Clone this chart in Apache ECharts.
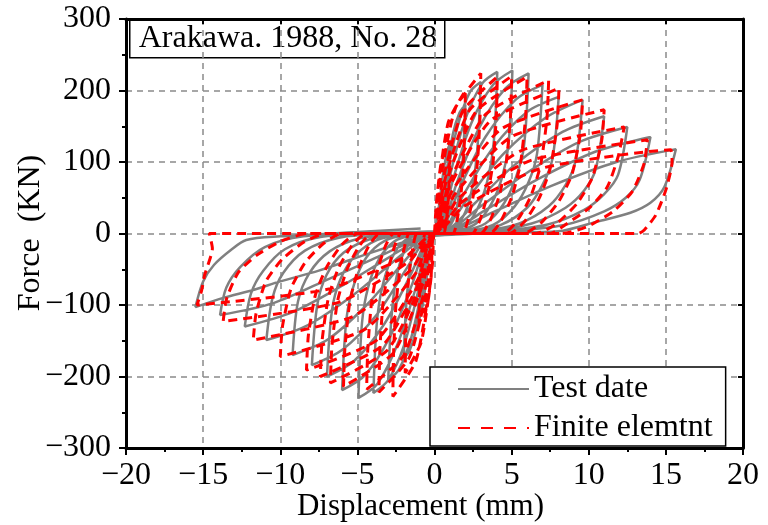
<!DOCTYPE html>
<html>
<head>
<meta charset="utf-8">
<script src="https://cdn.jsdelivr.net/npm/echarts@6/dist/echarts.min.js"></script>
<style>
  html, body { margin: 0; padding: 0; background: #fff; }
  #chart { width: 768px; height: 525px; }
</style>
</head>
<body>
<div id="chart"></div>
<script>
// Axis ranges and ticks
const xRange = [-20, 20, 5];
const yRange = [-300, 300, 100];

// Test hysteresis loops, one cycle per displacement level: [displacement mm, force kN]
const testCycles = [
  [[0,0],[0.3,40],[0.6,90],[0.85,117],[1.0,125],[0.9,80],[0.7,30],[0.45,8],[0.1,0],[-0.2,-10],[-0.5,-60],[-0.8,-105],[-1.0,-120],[-0.9,-75],[-0.7,-28],[-0.4,-6],[0,2]],
  [[0.3,8],[0.7,75],[1.2,140],[1.6,168],[2.0,180],[1.85,110],[1.6,55],[1.2,18],[0.6,3],[0,-2],[-0.3,-10],[-0.7,-70],[-1.2,-135],[-1.6,-163],[-2.0,-175],[-1.85,-105],[-1.6,-50],[-1.2,-15],[-0.6,-2],[0,3]],
  [[0.3,8],[0.8,80],[1.5,150],[2.3,198],[3.0,212],[2.8,125],[2.5,70],[2.0,30],[1.3,8],[0.5,0],[0,-3],[-0.3,-10],[-0.8,-75],[-1.5,-145],[-2.3,-190],[-3.0,-205],[-2.8,-120],[-2.5,-65],[-2.0,-27],[-1.3,-7],[-0.5,0],[0,3]],
  [[0.4,6],[1.0,80],[2.0,160],[3.1,210],[4.07,226],[3.85,130],[3.5,80],[2.9,40],[2.1,13],[1.0,2],[0,-3],[-0.4,-8],[-1.0,-75],[-2.0,-158],[-3.0,-205],[-3.96,-223],[-3.75,-128],[-3.4,-76],[-2.8,-36],[-2.0,-11],[-1.0,-1],[0,3]],
  [[0.4,6],[1.2,75],[2.4,155],[3.8,208],[5.05,228],[4.8,125],[4.4,80],[3.7,42],[2.7,14],[1.3,2],[0,-3],[-0.4,-8],[-1.2,-75],[-2.4,-155],[-3.7,-210],[-4.93,-230],[-4.7,-125],[-4.3,-75],[-3.6,-36],[-2.6,-11],[-1.3,-1],[0,3]],
  [[0.5,5],[1.4,68],[2.9,148],[4.6,203],[6.1,224],[5.8,122],[5.3,80],[4.5,42],[3.3,14],[1.6,2],[0,-3],[-0.5,-8],[-1.4,-68],[-2.9,-145],[-4.5,-198],[-5.99,-219],[-5.7,-118],[-5.2,-70],[-4.4,-33],[-3.2,-10],[-1.6,-1],[0,3]],
  [[0.5,5],[1.6,62],[3.3,135],[5.3,188],[7.0,208],[6.65,112],[6.1,72],[5.2,38],[3.8,12],[1.9,2],[0,-3],[-0.5,-8],[-1.6,-60],[-3.3,-128],[-5.2,-178],[-6.97,-200],[-6.65,-108],[-6.1,-64],[-5.1,-30],[-3.7,-9],[-1.9,-1],[0,3]],
  [[0.6,5],[1.9,55],[3.8,120],[6.0,170],[8.05,191],[7.65,105],[7.0,68],[6.0,36],[4.3,12],[2.2,2],[0,-3],[-0.6,-8],[-1.9,-52],[-3.8,-115],[-6.0,-163],[-7.95,-184],[-7.6,-100],[-7.0,-58],[-5.9,-27],[-4.2,-8],[-2.2,-1],[0,3]],
  [[0.6,5],[2.2,50],[4.5,112],[7.2,162],[9.6,187],[9.15,102],[8.5,68],[7.4,38],[5.5,14],[2.8,2],[0,-3],[-0.6,-7],[-2.2,-45],[-4.4,-100],[-6.9,-148],[-9.2,-170],[-8.85,-95],[-8.1,-55],[-6.8,-25],[-4.9,-7],[-2.5,-1],[0,3]],
  [[0.7,4],[2.6,42],[5.2,96],[8.3,142],[11.0,164],[10.45,90],[9.7,60],[8.5,36],[6.3,14],[3.2,2],[0,-3],[-0.7,-6],[-2.6,-38],[-5.2,-85],[-8.2,-128],[-10.9,-149],[-10.5,-90],[-9.8,-55],[-8.4,-24],[-6.2,-6],[-3.2,0],[0,3]],
  [[0.8,4],[3.0,38],[6.0,85],[9.4,128],[12.5,149],[11.9,82],[11.0,55],[9.7,33],[7.4,13],[3.7,2],[0,-3],[-0.8,-6],[-3.0,-34],[-5.9,-72],[-9.2,-110],[-12.3,-130],[-11.9,-84],[-11.1,-52],[-9.7,-22],[-7.4,-5],[-3.7,0],[0,3]],
  [[0.9,4],[3.4,34],[6.7,76],[10.5,115],[14.0,135],[13.3,75],[12.4,50],[11.0,31],[8.4,12],[4.2,2],[0,-3],[-0.9,-6],[-3.4,-30],[-6.8,-63],[-10.4,-97],[-13.9,-114],[-13.5,-76],[-12.6,-47],[-11.0,-19],[-8.5,-4],[-4.3,0],[0,3]],
  [[1.0,4],[3.8,30],[7.5,66],[11.8,100],[15.65,118],[14.9,65],[14.0,43],[12.7,29],[10.6,17],[8.0,3],[4.0,1],[0,-3],[-1.0,-6],[-4.0,-26],[-7.5,-52],[-10.0,-67],[-11.75,-79],[-13.7,-90],[-15.5,-103],[-15.0,-67],[-14.3,-44],[-13.2,-23],[-12.2,-9],[-10.0,-4],[-5.0,2],[-0.9,7]]
];

// Finite element loops: [displacement mm, force kN]
const feCycles = [
  [[0,0],[0.12,42],[0.45,101],[1.0,130],[0.98,100],[0.93,58],[0.84,31],[0.72,10],[0.6,0],[0,0],[-0.12,-40],[-0.45,-98],[-1.0,-125],[-0.98,-94],[-0.93,-56],[-0.84,-30],[-0.72,-10],[-0.6,0],[0,0]],
  [[0.24,64],[0.9,156],[2.0,200],[1.97,150],[1.86,90],[1.68,48],[1.44,16],[1.2,0],[0,0],[-0.23,-62],[-0.86,-152],[-1.9,-195],[-1.87,-146],[-1.77,-88],[-1.6,-47],[-1.37,-16],[-1.14,0],[0,0]],
  [[0.36,72],[1.35,175],[3.0,224],[2.96,168],[2.79,101],[2.52,54],[2.16,18],[1.8,0],[0,0],[-0.32,-73],[-1.2,-178],[-2.7,-228],[-2.66,-171],[-2.51,-103],[-2.27,-55],[-1.94,-18],[-1.62,0],[0,0]],
  [[0.49,70],[1.83,171],[4.07,219],[4.01,164],[3.79,99],[3.42,53],[2.93,18],[2.44,0],[0,0],[-0.43,-71],[-1.62,-173],[-3.6,-222],[-3.55,-167],[-3.35,-100],[-3.02,-53],[-2.59,-18],[-2.16,0],[0,0]],
  [[0.6,70],[2.25,172],[5.0,220],[4.93,165],[4.65,99],[4.2,53],[3.6,18],[3.0,0],[0,0],[-0.53,-70],[-1.98,-170],[-4.4,-218],[-4.33,-164],[-4.09,-98],[-3.7,-52],[-3.17,-17],[-2.64,0],[0,0]],
  [[0.72,70],[2.7,171],[6.0,219],[5.91,164],[5.58,99],[5.04,53],[4.32,18],[3.6,0],[0,0],[-0.71,-68],[-2.66,-167],[-5.9,-214],[-5.81,-161],[-5.49,-96],[-4.96,-51],[-4.25,-17],[-3.54,0],[0,0]],
  [[0.89,68],[3.33,167],[7.4,214],[7.29,161],[6.88,96],[6.22,51],[5.33,17],[4.44,0],[0,0],[-0.81,-67],[-3.04,-163],[-6.75,-209],[-6.65,-157],[-6.28,-94],[-5.67,-50],[-4.86,-17],[-4.05,0],[0,0]],
  [[0.97,65],[3.63,158],[8.07,203],[7.95,152],[7.5,91],[6.78,49],[5.81,16],[4.84,0],[0,0],[-0.89,-64],[-3.33,-156],[-7.4,-200],[-7.29,-150],[-6.88,-90],[-6.22,-48],[-5.33,-16],[-4.44,0],[0,0]],
  [[1.15,60],[4.32,146],[9.6,187],[9.46,140],[8.93,84],[8.06,45],[6.91,15],[5.76,0],[0,0],[-1.0,-61],[-3.74,-149],[-8.3,-191],[-8.18,-143],[-7.72,-86],[-6.97,-46],[-5.98,-15],[-4.98,0],[0,0]],
  [[1.32,55],[4.95,135],[11.0,173],[10.84,130],[10.23,78],[9.24,42],[7.92,14],[6.6,0],[0,0],[-1.2,-55],[-4.5,-134],[-10.0,-172],[-9.85,-129],[-9.3,-77],[-8.4,-41],[-7.2,-14],[-6.0,0],[0,0]],
  [[1.5,48],[5.63,116],[12.3,149],[11.9,107],[11.2,65],[10.1,37],[8.6,14],[7.5,0],[0,0],[-1.41,-48],[-5.29,-116],[-11.75,-149],[-11.57,-112],[-10.93,-67],[-9.87,-36],[-8.46,-12],[-7.05,0],[0,0]],
  [[1.66,42],[6.21,102],[13.8,131],[13.59,98],[12.83,59],[11.59,31],[9.94,10],[8.28,0],[0,0],[-1.64,-39],[-6.17,-96],[-13.7,-123],[-13.49,-92],[-12.74,-55],[-11.51,-30],[-9.86,-10],[-8.22,0],[0,0]],
  [[1.84,37],[6.89,91],[15.3,117],[15.4,100],[15.0,61],[14.35,26],[13.6,5],[13.2,0],[0,0],[-1.85,-32],[-6.93,-78],[-15.4,-100],[-15.1,-80],[-14.9,-58],[-14.4,-21],[-14.6,0],[0,0]]
];

const seriesNames = ['Test date', 'Finite elemtnt'];
const titleText = 'Arakawa. 1988, No. 28';
const yName = 'Force  (KN)';

const serif = 'Liberation Serif';
const minusFmt = v => String(v).replace('-', '\u2212');

const testPath = [].concat(...testCycles);
const fePath = [].concat(...feCycles);

const chart = echarts.init(document.getElementById('chart'), null, { renderer: 'canvas' });

const frameAxisLine = { show: true, onZero: false, lineStyle: { color: '#000', width: 3 } };
const hiddenSymbol = { color: 'rgba(0,0,0,0)', borderWidth: 0 };

chart.setOption({
  backgroundColor: '#fff',
  animation: false,
  grid: { left: 126, right: 25, top: 19, bottom: 77, containLabel: false, outerBoundsMode: 'none' },
  xAxis: [
    {
      type: 'value', min: xRange[0], max: xRange[1], interval: xRange[2],
      position: 'bottom',
      name: 'Displacement (mm)', nameLocation: 'middle', nameGap: 43, nameMoveOverlap: false,
      nameTextStyle: { fontFamily: serif, fontSize: 31, color: '#000', padding: [0, 28, 0, 0] },
      axisLine: frameAxisLine,
      axisTick: { show: true, length: 7, lineStyle: { color: '#000', width: 2 } },
      minorTick: { show: true, splitNumber: 2, length: 4, lineStyle: { color: '#000', width: 2 } },
      axisLabel: { fontFamily: serif, fontSize: 32, color: '#000', margin: 12, formatter: minusFmt },
      splitLine: { show: true, lineStyle: { color: '#8a8a8a', width: 1.5, type: [6, 5] } }
    },
    {
      type: 'value', min: xRange[0], max: xRange[1], interval: xRange[2],
      position: 'top',
      axisLine: frameAxisLine,
      axisTick: { show: true, inside: true, length: 5, lineStyle: { color: '#000', width: 2 } },
      axisLabel: { show: false },
      splitLine: { show: false }
    }
  ],
  yAxis: [
    {
      type: 'value', min: yRange[0], max: yRange[1], interval: yRange[2],
      position: 'left',
      axisLine: frameAxisLine,
      axisTick: { show: true, length: 7, lineStyle: { color: '#000', width: 2 } },
      minorTick: { show: true, splitNumber: 2, length: 4, lineStyle: { color: '#000', width: 2 } },
      axisLabel: { fontFamily: serif, fontSize: 32, color: '#000', margin: 15, formatter: minusFmt },
      splitLine: { show: true, lineStyle: { color: '#8a8a8a', width: 1.5, type: [6, 5] } }
    },
    {
      type: 'value', min: yRange[0], max: yRange[1], interval: yRange[2],
      position: 'right',
      axisLine: frameAxisLine,
      axisTick: { show: true, inside: true, length: 5, lineStyle: { color: '#000', width: 2 } },
      axisLabel: { show: false },
      splitLine: { show: false }
    }
  ],
  legend: {
    orient: 'vertical',
    left: 430, top: 367,
    padding: [6, 13, 2, 27],
    itemWidth: 71, itemHeight: 14, itemGap: 7,
    backgroundColor: '#fff',
    borderColor: '#000', borderWidth: 1.5, borderRadius: 0,
    textStyle: { fontFamily: serif, fontSize: 32, color: '#000' },
    data: [
      { name: seriesNames[0], itemStyle: hiddenSymbol },
      { name: seriesNames[1], itemStyle: hiddenSymbol, lineStyle: { type: [12, 11] } }
    ]
  },
  graphic: [
    {
      type: 'group', left: 129, top: 18, z: 100,
      children: [
        { type: 'rect', shape: { x: 0, y: 0, width: 315, height: 39 },
          style: { fill: '#fff', stroke: '#000', lineWidth: 1.5 } },
        { type: 'text', x: 9, y: 20,
          style: { text: titleText, fontFamily: serif, fontSize: 32, fill: '#000', verticalAlign: 'middle' } }
      ]
    },
    {
      // vertical y-axis title, reading bottom to top
      type: 'text', x: 31, y: 233, rotation: Math.PI / 2, z: 100,
      style: { text: yName, fontFamily: serif, fontSize: 32, fill: '#000', align: 'center', verticalAlign: 'middle' }
    }
  ],
  series: [
    {
      name: seriesNames[0], type: 'line', data: testPath,
      xAxisIndex: 0, yAxisIndex: 0,
      symbol: 'none', smooth: 0.3, z: 2,
      lineStyle: { color: '#808080', width: 2.5 },
      itemStyle: { color: '#808080' }
    },
    {
      name: seriesNames[1], type: 'line', data: fePath,
      xAxisIndex: 0, yAxisIndex: 0,
      symbol: 'none', smooth: 0.2, z: 3,
      lineStyle: { color: '#ff0000', width: 3, type: [9, 6] },
      itemStyle: { color: '#ff0000' }
    }
  ]
});
</script>
</body>
</html>
